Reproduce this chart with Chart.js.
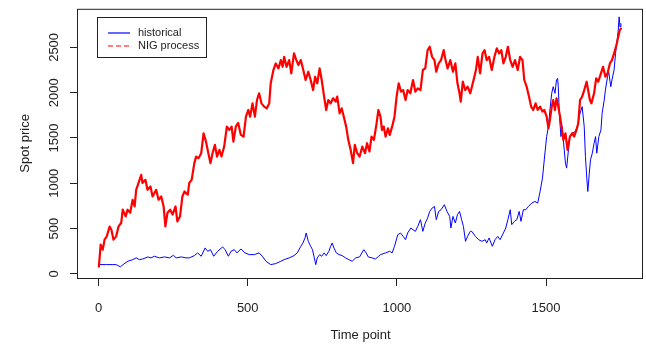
<!DOCTYPE html>
<html>
<head>
<meta charset="utf-8">
<script src="https://cdn.jsdelivr.net/npm/chart.js@4.4.1/dist/chart.umd.min.js"></script>
<style>
  html, body { margin: 0; padding: 0; background: #fff; }
</style>
</head>
<body>
<canvas id="spotChart" width="646" height="347"></canvas>
<script>
// --- Data ---
const seriesNames = ['historical', 'NIG process'];

const histTime = [1,26,48,59,73,82,98,115,126,137,148,165,176,187,204,221,238,251,260,277,293,304,321,332,344,357,366,375,386,399,416,424,435,444,455,464,477,491,505,522,538,549,561,577,594,611,622,639,655,666,678,685,692,696,703,711,717,722,728,733,741,748,756,763,772,778,783,789,797,806,817,828,839,850,862,875,889,897,904,917,928,939,945,962,976,984,992,1003,1012,1021,1029,1036,1047,1054,1062,1070,1079,1087,1095,1103,1110,1118,1126,1132,1140,1148,1159,1168,1177,1181,1188,1196,1203,1210,1217,1223,1230,1237,1246,1251,1263,1274,1285,1296,1301,1309,1320,1329,1338,1346,1357,1365,1372,1380,1385,1394,1402,1410,1416,1424,1432,1441,1452,1463,1472,1480,1488,1494,1502,1508,1513,1519,1524,1530,1535,1539,1541,1545,1550,1554,1561,1565,1569,1574,1580,1588,1597,1605,1614,1621,1628,1632,1637,1640,1645,1649,1655,1661,1666,1670,1677,1684,1688,1695,1699,1706,1710,1717,1721,1728,1733,1737,1742,1745,1748,1751];
const histPrice = [102,102,102,102,77,102,139,157,176,157,164,187,176,194,176,187,176,205,176,187,176,176,201,231,194,286,249,267,194,249,297,267,194,249,267,231,275,231,212,212,231,194,139,102,113,139,157,176,201,231,304,341,396,451,359,304,267,194,102,176,212,194,231,201,249,304,341,286,231,212,201,176,157,139,176,187,267,231,187,176,164,194,212,231,249,231,304,432,451,414,377,451,506,487,469,524,598,469,561,616,689,726,744,598,689,708,763,689,634,506,634,561,653,689,598,524,359,414,469,469,414,377,359,377,341,396,304,377,414,377,451,506,598,708,543,579,598,689,579,708,708,744,781,799,781,909,1056,1258,1515,1625,1809,1993,2066,1993,2140,2158,2066,1735,1515,1625,1369,1222,1167,1332,1515,1552,1570,1625,1772,1846,1625,1295,1038,909,1112,1258,1332,1442,1515,1332,1515,1589,1772,1919,2029,2176,2231,2066,2140,2250,2433,2544,2690,2837,2727,2764];

const nigTime = [1,7,14,20,27,37,43,50,59,67,76,81,91,97,106,114,121,126,134,143,147,157,164,174,181,193,201,210,218,224,231,240,248,258,264,273,281,288,299,304,312,321,327,335,344,352,360,368,375,382,390,397,405,412,421,430,438,446,452,460,468,477,486,494,502,508,516,524,531,538,546,555,564,572,577,586,594,603,611,617,622,630,639,646,655,663,670,678,685,694,703,711,719,726,733,741,748,756,763,770,778,786,795,800,808,815,822,830,837,845,853,859,867,875,884,893,900,908,915,923,932,938,945,950,956,962,970,976,984,992,999,1006,1014,1021,1029,1036,1045,1054,1062,1070,1079,1087,1095,1103,1110,1118,1126,1132,1140,1148,1157,1162,1170,1179,1188,1196,1203,1210,1214,1221,1229,1237,1246,1257,1265,1271,1279,1287,1294,1301,1309,1318,1327,1335,1343,1350,1357,1365,1372,1380,1388,1396,1405,1413,1421,1427,1435,1443,1450,1457,1465,1472,1480,1488,1494,1502,1508,1513,1519,1524,1530,1535,1541,1547,1552,1558,1565,1572,1580,1588,1594,1602,1608,1614,1621,1628,1636,1641,1647,1652,1661,1668,1675,1684,1691,1699,1706,1714,1721,1728,1736,1742,1747,1751];
const nigPrice = [80,322,267,377,410,521,487,377,414,524,564,708,634,708,674,818,744,928,1004,1093,1004,1038,928,964,854,928,818,854,744,524,674,708,654,744,579,634,854,909,874,1004,1038,1222,1295,1277,1332,1552,1460,1332,1222,1332,1424,1295,1369,1295,1405,1625,1589,1625,1460,1625,1666,1534,1515,1735,1809,1735,1882,1735,1919,1993,1882,1846,1827,1882,2103,2250,2323,2268,2360,2286,2396,2286,2360,2213,2433,2360,2305,2360,2268,2140,2231,2140,2029,2176,2103,2268,2140,1956,1809,1919,1882,1938,1901,1956,1772,1827,1735,1625,1479,1369,1222,1424,1332,1295,1405,1332,1442,1350,1515,1479,1663,1809,1735,1589,1625,1515,1607,1534,1625,1735,1956,2103,2011,2029,1919,2029,1993,2140,2011,2048,2029,2250,2268,2470,2507,2396,2360,2231,2323,2360,2470,2378,2268,2360,2231,2323,2103,1993,1901,2121,2029,2066,1993,2140,2250,2396,2213,2433,2470,2360,2396,2250,2396,2489,2433,2470,2323,2396,2507,2360,2286,2360,2250,2396,2360,2140,2066,1956,1846,1809,1882,1809,1846,1791,1809,1735,1607,1699,1846,1919,1809,1938,1846,1735,1625,1479,1552,1369,1515,1552,1515,1589,1663,1919,1956,2029,2121,2029,1919,1882,1993,2158,2121,2213,2286,2176,2213,2323,2360,2433,2525,2616,2690,2708];

const xTicks = [0, 500, 1000, 1500];
const yTicks = [0, 500, 1000, 1500, 2000, 2500];

// --- Helpers ---
const FONT = 'Liberation Sans, Arial, sans-serif';
const INK = '#222';

function toPoints(times, values) {
    return times.map((t, i) => ({ x: t, y: values[i] }));
}

// R style box round the plot region
const boxPlugin = {
    id: 'rBox',
    afterDraw(chart) {
        const { ctx, chartArea: a } = chart;
        ctx.save();
        ctx.strokeStyle = INK;
        ctx.lineWidth = 1;
        ctx.strokeRect(a.left - 0.5, a.top + 0.5, a.right - a.left, a.bottom - a.top);
        ctx.restore();
    }
};

// Boxed legend in the top left corner of the plot
const legendPlugin = {
    id: 'rLegend',
    afterDraw(chart) {
        const ctx = chart.ctx;
        const sets = chart.data.datasets;
        ctx.save();
        ctx.fillStyle = '#fff';
        ctx.fillRect(98, 18, 108, 40);
        ctx.strokeStyle = INK;
        ctx.lineWidth = 1;
        ctx.strokeRect(97.5, 17.5, 109, 40);

        sets.forEach((ds, i) => {
            const y = 33 + i * 13;
            ctx.strokeStyle = ds.borderColor;
            ctx.lineWidth = 1.2;
            ctx.setLineDash(ds.legendDash || []);
            ctx.beginPath();
            ctx.moveTo(108, y);
            ctx.lineTo(130, y);
            ctx.stroke();
            ctx.setLineDash([]);
            ctx.fillStyle = INK;
            ctx.font = '11px ' + FONT;
            ctx.textBaseline = 'middle';
            ctx.textAlign = 'left';
            ctx.fillText(ds.label, 138, y);
        });
        ctx.restore();
    }
};

const ctx = document.getElementById('spotChart').getContext('2d');

new Chart(ctx, {
    type: 'line',
    data: {
        datasets: [
            {
                label: seriesNames[0],
                data: toPoints(histTime, histPrice),
                borderColor: '#0000ff',
                borderWidth: 1,
                order: 2
            },
            {
                label: seriesNames[1],
                data: toPoints(nigTime, nigPrice),
                borderColor: '#ff0000',
                borderWidth: 2.2,
                legendDash: [5, 3],
                order: 1
            }
        ]
    },
    options: {
        responsive: false,
        animation: false,
        devicePixelRatio: 1,
        layout: { padding: { top: 8, right: 3, left: 0, bottom: 0 } },
        elements: {
            point: { radius: 0 },
            line: { tension: 0, borderJoinStyle: 'round', borderCapStyle: 'round' }
        },
        plugins: {
            legend: { display: false },
            tooltip: { enabled: false }
        },
        scales: {
            x: {
                type: 'linear',
                min: -69,
                max: 1825,
                afterBuildTicks: s => { s.ticks = xTicks.map(v => ({ value: v })); },
                afterFit: s => { s.height = 69; },
                border: { display: false },
                grid: { drawOnChartArea: false, drawTicks: true, tickLength: 8, color: INK },
                ticks: {
                    color: INK,
                    font: { family: FONT, size: 13 },
                    padding: 15,
                    maxRotation: 0,
                    autoSkip: false,
                    callback: v => String(v)
                },
                title: {
                    display: true,
                    text: 'Time point',
                    color: INK,
                    font: { family: FONT, size: 13 },
                    padding: { top: 0, bottom: 4 }
                }
            },
            y: {
                type: 'linear',
                min: -46,
                max: 2926,
                afterBuildTicks: s => { s.ticks = yTicks.map(v => ({ value: v })); },
                afterFit: s => { s.width = 78; },
                border: { display: false },
                grid: { drawOnChartArea: false, drawTicks: true, tickLength: 8, color: INK },
                ticks: {
                    color: INK,
                    font: { family: FONT, size: 13 },
                    padding: 1,
                    minRotation: 90,
                    maxRotation: 90,
                    crossAlign: 'center',
                    autoSkip: false,
                    callback: v => String(v)
                },
                title: {
                    display: true,
                    text: 'Spot price',
                    color: INK,
                    font: { family: FONT, size: 13 },
                    padding: { top: 18, bottom: 0 }
                }
            }
        }
    },
    plugins: [boxPlugin, legendPlugin]
});
</script>
</body>
</html>
